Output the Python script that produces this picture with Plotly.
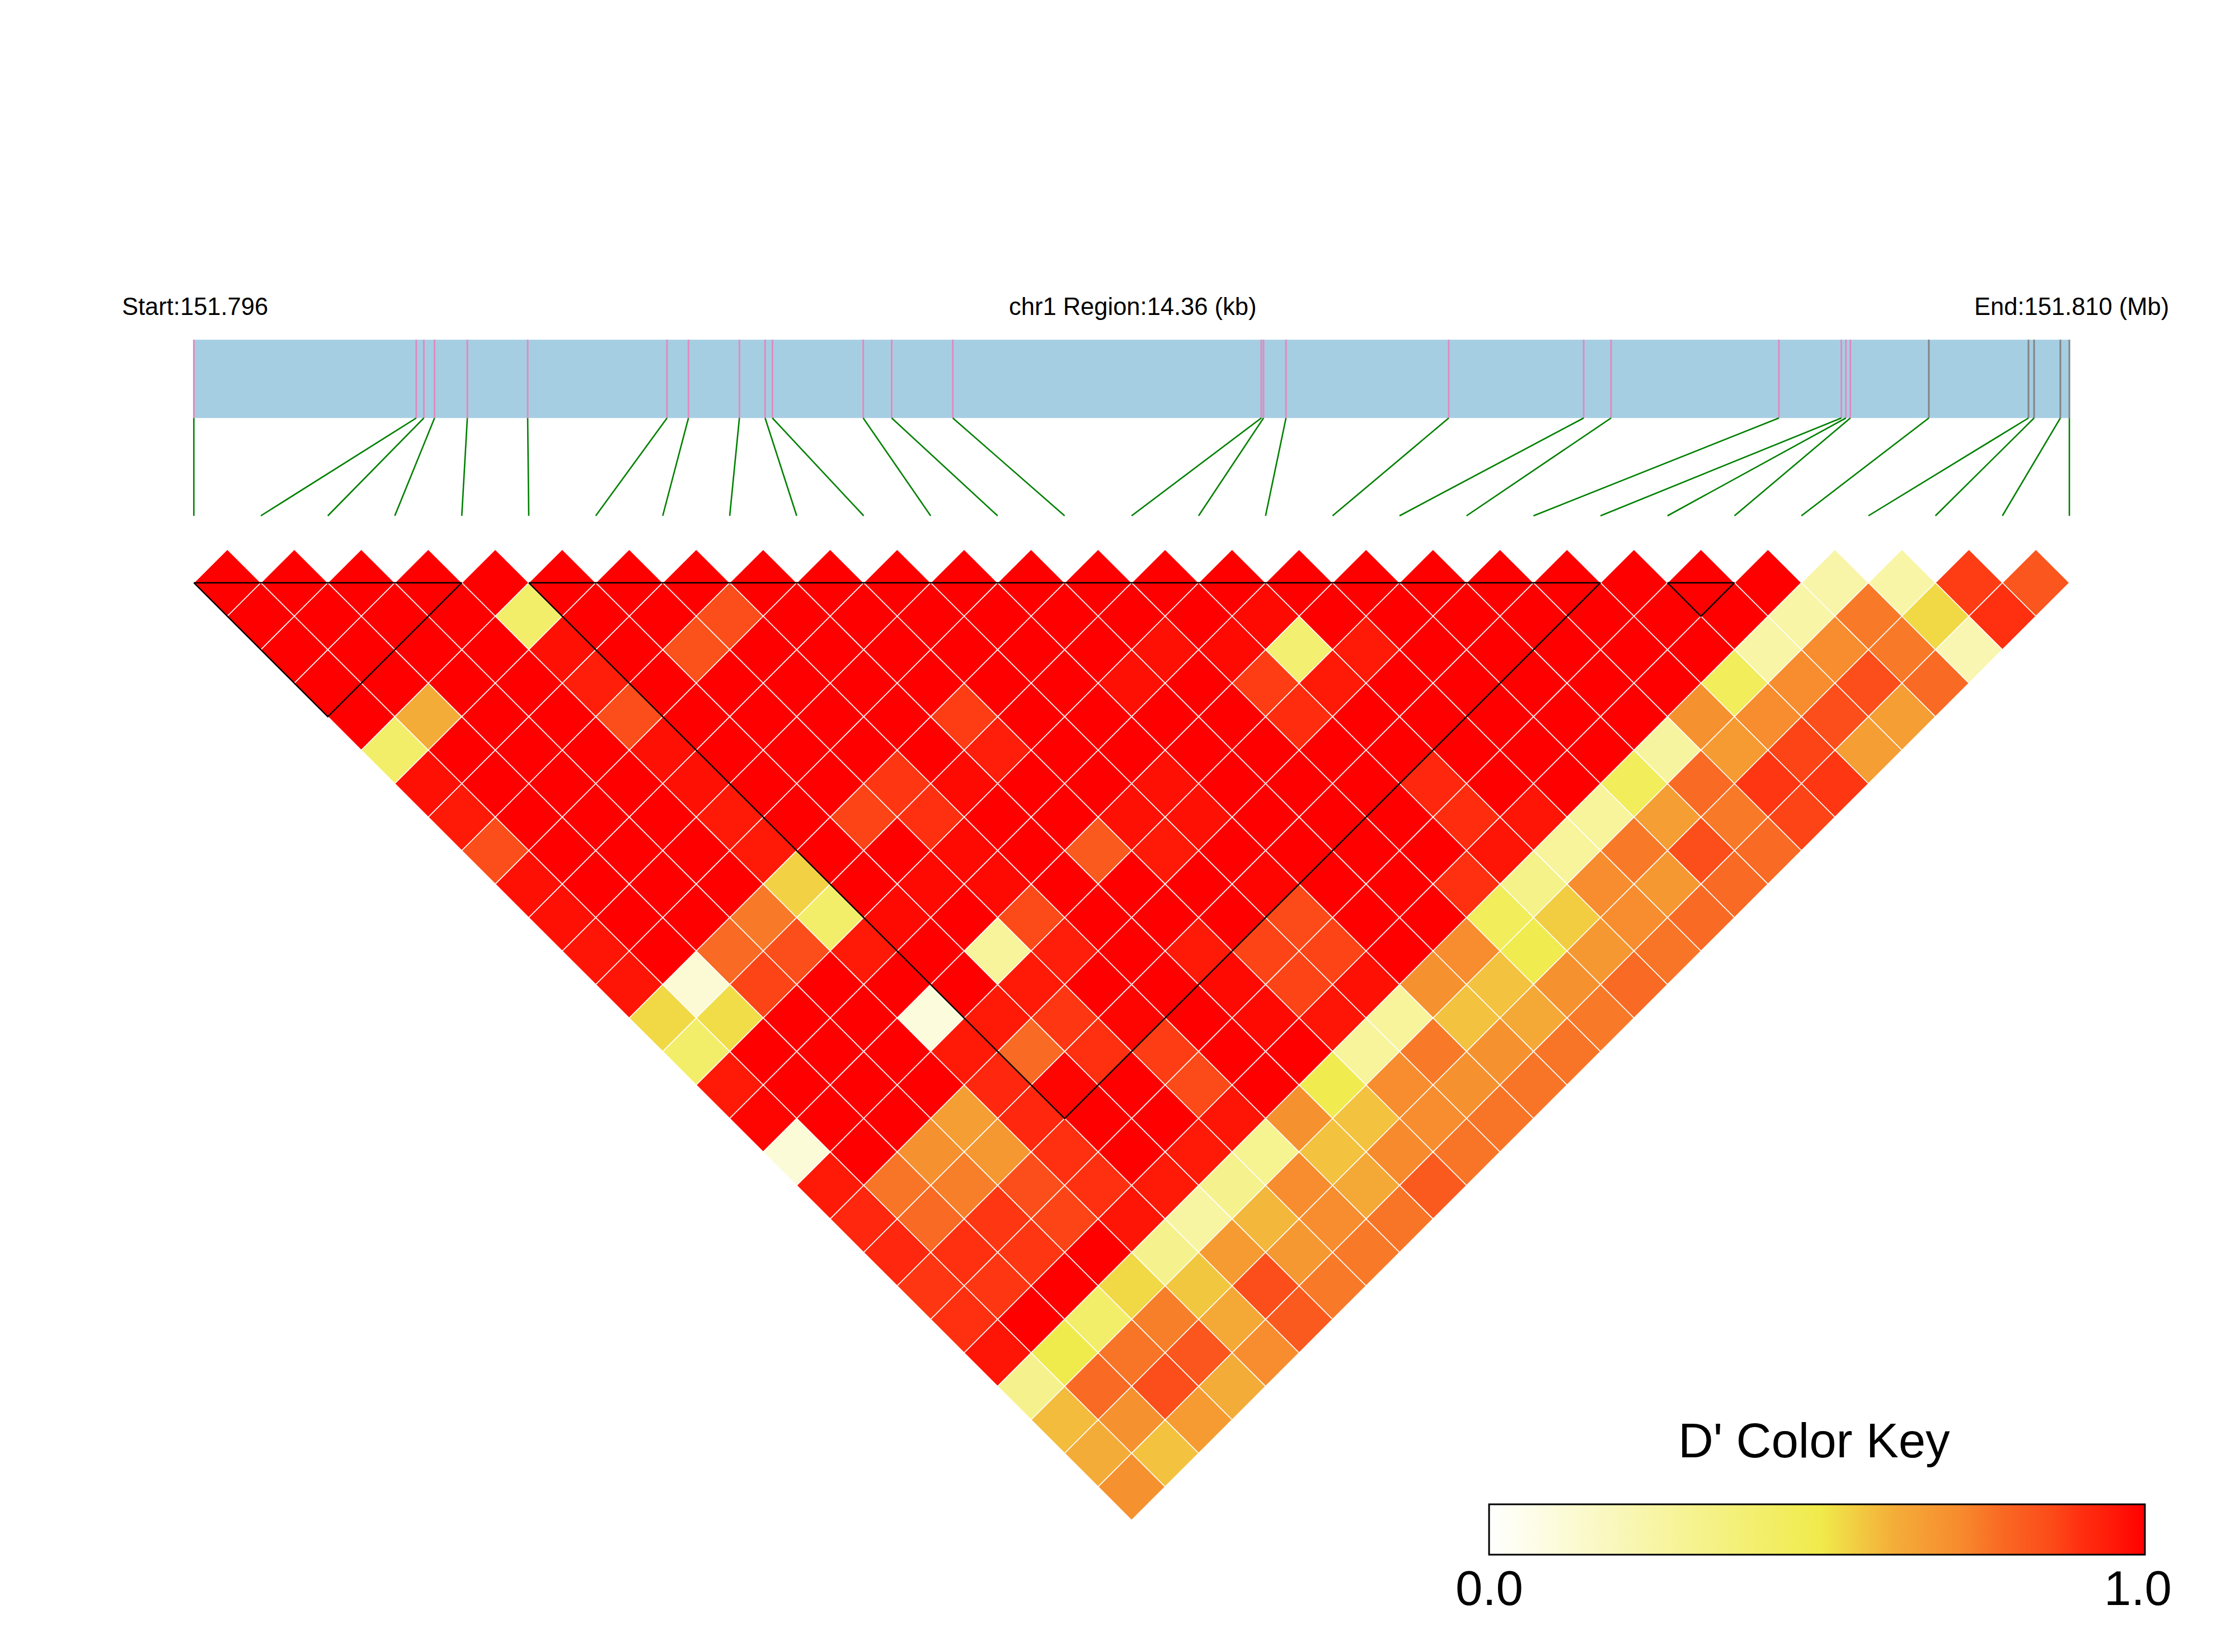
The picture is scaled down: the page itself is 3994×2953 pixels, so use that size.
import plotly.graph_objects as go

# ---- data ----
REGION_KB = 14.36
START_LABEL = "Start:151.796"
MIDDLE_LABEL = "chr1 Region:14.36 (kb)"
END_LABEL = "End:151.810 (Mb)"
KEY_TITLE = "D' Color Key"
KEY_TICK_LABELS = ["0.0", "1.0"]

# SNP positions inside the region, kb from the start
snp_kb = [0, 1.703, 1.761, 1.843, 2.094, 2.556, 3.623, 3.787, 4.177, 4.374,
          4.430, 5.125, 5.343, 5.811, 8.173, 8.190, 8.362, 9.608, 10.641, 10.851,
          12.136, 12.614, 12.649, 12.683, 13.284, 14.047, 14.090, 14.291, 14.36]

# LD blocks: first and last SNP of each
ld_blocks = [(0, 4), (5, 21), (22, 23)]

# D' by row: row r holds the pairs (i, i + r + 1)
dp_00 = [1,1,1,1,1,1,1,1,1,1,1,1,1,1,1,1,1,1,1,1,1,1,1,1,.24,.25,.88,.83]
dp_01 = [1,1,1,1,.42,1,1,.85,1,1,1,1,1,1,1,.98,1,1,1,1,1,1,1,.25,.75,.54,.90]
dp_02 = [1,1,1,1,.97,1,.84,1,1,1,1,1,1,.97,.98,.40,.95,1,1,1,1,1,.25,.71,.75,.22]
dp_03 = [1,1,1,1,.94,1,1,1,1,1,1,1,.97,1,.88,.95,1,1,1,1,1,.46,.71,.85,.78]
dp_04 = [1,.62,1,1,.85,1,1,1,1,.88,1,1,1,1,.91,1,1,1,1,1,.70,.71,.85,.66]
dp_05 = [.42,1,1,1,.97,1,1,1,1,.94,1,1,1,1,1,1,1,1,1,.27,.67,.87,.66]
dp_06 = [.97,1,1,1,.97,1,1,.89,.98,1,1,.97,1,1,1,.92,1,1,.46,.78,.89,.89]
dp_07 = [.95,1,1,1,.95,1,.87,.90,1,1,.97,.97,1,1,1,.91,.96,.28,.66,.75,.87]
dp_08 = [.85,1,1,1,.95,1,1,.98,1,.82,.95,1,1,1,1,.96,.28,.75,.85,.78]
dp_09 = [.97,1,1,1,.55,1,.98,.98,1,1,1,.99,1,1,.90,.33,.71,.68,.78]
dp_10 = [.97,1,1,.75,.42,.98,1,.86,1,1,1,.86,1,1,.46,.56,.71,.78]
dp_11 = [.96,1,.78,.85,.95,1,.28,.94,1,.95,.87,.87,1,.71,.49,.68,.76]
dp_12 = [.96,.12,.87,1,1,1,.95,1,1,.98,.87,.97,.70,.58,.70,.78]
dp_13 = [.54,.53,1,1,.10,.95,.89,.99,1,.98,.96,.28,.58,.63,.75]
dp_14 = [.42,1,1,1,.95,.78,.90,.88,1,1,.28,.75,.70,.76]
dp_15 = [.95,1,1,1,.92,.99,1,.86,1,.49,.71,.70,.76]
dp_16 = [.99,1,1,.66,.92,1,1,.96,.70,.58,.71,.76]
dp_17 = [.11,1,.70,.68,.90,1,.95,.31,.58,.72,.76]
dp_18 = [.95,.76,.74,.85,.90,.95,.32,.71,.63,.82]
dp_19 = [.92,.78,.89,.87,.96,.26,.60,.71,.76]
dp_20 = [.92,.90,.89,1,.32,.67,.68,.75]
dp_21 = [.89,.89,1,.54,.57,.85,.75]
dp_22 = [.90,1,.42,.74,.63,.82]
dp_23 = [.96,.50,.76,.83,.71]
dp_24 = [.32,.78,.85,.62]
dp_25 = [.59,.70,.67]
dp_26 = [.62,.58]
dp_27 = [.70]

dp_rows = [dp_00, dp_01, dp_02, dp_03, dp_04, dp_05, dp_06, dp_07, dp_08, dp_09,
           dp_10, dp_11, dp_12, dp_13, dp_14, dp_15, dp_16, dp_17, dp_18, dp_19,
           dp_20, dp_21, dp_22, dp_23, dp_24, dp_25, dp_26, dp_27]

# ---- styles ----
W, H = 3994, 2953
LEFT_PX, RIGHT_PX, TOP_PX = 346.4, 3698.0, 1041.7
FONT = "Liberation Sans, Arial, sans-serif"
BLUE, PINK, GREY, GREEN = "#A6CEE3", "#E08BBF", "#848484", "#008000"
SCALE = [[0, "#FFFFFF"], [.505, "#F0EB4B"], [.62, "#F4AC38"], [.72, "#F78A2D"],
         [.78, "#F96A24"], [.86, "#FC4A18"], [.90, "#FF3010"], [.95, "#FF1A08"], [1, "#FF0000"]]
BAR_TOP, BAR_BOTTOM, LINK_BOTTOM = -7.26, -4.92, -2.0
N = len(snp_kb) - 1
UNIT = (RIGHT_PX - LEFT_PX) / N

for r, row in enumerate(dp_rows):
    assert len(row) == N - r, (r, len(row))

# ---- cells ----
cx, cy, cv = [], [], []
for r, row in enumerate(dp_rows):
    for i, v in enumerate(row):
        cx.append(i + (r + 1) / 2)
        cy.append(r)
        cv.append(v)

fig = go.Figure()

# gene bar
fig.add_trace(go.Scatter(x=[0, N, N, 0, 0],
                         y=[BAR_TOP, BAR_TOP, BAR_BOTTOM, BAR_BOTTOM, BAR_TOP],
                         mode="lines", fill="toself", fillcolor=BLUE,
                         line=dict(width=0), hoverinfo="skip"))

snp_x = [k / REGION_KB * N for k in snp_kb]


def ticks(indices):
    xs, ys = [], []
    for i in indices:
        xs += [snp_x[i], snp_x[i], None]
        ys += [BAR_TOP, BAR_BOTTOM, None]
    return xs, ys


for idx, color in ((range(0, 24), PINK), (range(24, N + 1), GREY)):
    xs, ys = ticks(idx)
    fig.add_trace(go.Scatter(x=xs, y=ys, mode="lines",
                             line=dict(color=color, width=3), hoverinfo="skip"))

# links from the bar to the matrix
lx, ly = [], []
for i in range(N + 1):
    lx += [snp_x[i], i, None]
    ly += [BAR_BOTTOM, LINK_BOTTOM, None]
fig.add_trace(go.Scatter(x=lx, y=ly, mode="lines",
                         line=dict(color=GREEN, width=2.6), hoverinfo="skip"))

# LD matrix
fig.add_trace(go.Scatter(x=cx, y=cy, mode="markers",
                         marker=dict(symbol="diamond", size=2 * (UNIT / 2) / 1.3,
                                     color=cv, coloraxis="coloraxis",
                                     line=dict(color="white", width=1.6)),
                         hovertemplate="D'=%{marker.color}<extra></extra>"))

# LD blocks
for a, b in ld_blocks:
    fig.add_trace(go.Scatter(x=[a, b, (a + b) / 2, a], y=[0, 0, b - a, 0], mode="lines",
                             line=dict(color="black", width=2.4), hoverinfo="skip"))


def px_x(px):
    return (px - LEFT_PX) / UNIT


def px_y(px):
    return (px - TOP_PX) / (UNIT / 2)


def label(x, y, text, size, xshift=0):
    fig.add_annotation(x=x, y=y, xref="x", yref="y", text=text, showarrow=False,
                       xanchor="center", yanchor="middle", xshift=xshift,
                       font=dict(family=FONT, size=size, color="black"))


label(0, -8.25, START_LABEL, 43.5, 2)
label(N / 2, -8.25, MIDDLE_LABEL, 43.5, 2)
label(N, -8.25, END_LABEL, 43.5, 4)
label(px_x(3242), px_y(2574), KEY_TITLE, 87)
label(px_x(2661), px_y(2838), KEY_TICK_LABELS[0], 87)
label(px_x(3820), px_y(2838), KEY_TICK_LABELS[1], 87)

fig.update_layout(
    width=W, height=H, margin=dict(l=0, r=0, t=0, b=0),
    paper_bgcolor="white", plot_bgcolor="white", showlegend=False,
    xaxis=dict(range=[-LEFT_PX / UNIT, (W - LEFT_PX) / UNIT], visible=False, fixedrange=True),
    yaxis=dict(range=[(H - TOP_PX) / (UNIT / 2), -TOP_PX / (UNIT / 2)], visible=False, fixedrange=True),
    coloraxis=dict(
        cmin=0, cmax=1, colorscale=SCALE,
        colorbar=dict(orientation="h", lenmode="pixels", len=1172, thickness=90,
                      xanchor="left", x=2661 / W, yanchor="top", y=1 - 2689 / H,
                      xpad=0, ypad=0, outlinecolor="black", outlinewidth=3,
                      ticks="", showticklabels=False),
    ),
)

fig.write_html("out.html", config={"displayModeBar": False},
               post_script="document.body.style.margin='0';window.dispatchEvent(new Event('resize'));")
